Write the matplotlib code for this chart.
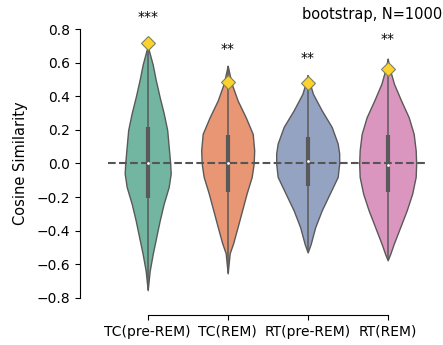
import colorsys
import matplotlib
matplotlib.use('Agg')
import matplotlib.pyplot as plt
import numpy as np
from matplotlib import colors as mcolors

# groups and annotations
groups = ['TC(pre-REM)', 'TC(REM)', 'RT(pre-REM)', 'RT(REM)']
stars = ['***', '**', '**', '**']
star_y = [0.875, 0.685, 0.63, 0.74]
observed = [0.72, 0.484, 0.48, 0.565]

# violin outlines: value grid and density (half width)
tcpre_v = [0.70, 0.59, 0.50, 0.395, 0.30, 0.20, 0.10, 0.0, -0.06, -0.14, -0.24, -0.34, -0.44, -0.54, -0.64, -0.755]
tcpre_d = [0, 5, 8, 12, 16, 19.5, 21, 22.5, 23, 21, 16, 12, 8.5, 5, 2, 0]
tcrem_v = [0.583, 0.55, 0.475, 0.375, 0.276, 0.177, 0.079, 0.0, -0.08, -0.177, -0.277, -0.377, -0.475, -0.535, -0.655]
tcrem_d = [0, 1.2, 4, 10, 18, 25, 26.5, 26, 24, 19, 14.5, 10, 5.5, 2, 0]
rtpre_v = [0.525, 0.47, 0.415, 0.317, 0.218, 0.119, 0.06, 0.0, -0.08, -0.18, -0.28, -0.38, -0.48, -0.53]
rtpre_d = [0, 2.5, 5.3, 14, 24, 30, 31.5, 31.5, 30, 22, 14, 7.5, 3, 0]
rtrem_v = [0.625, 0.565, 0.475, 0.377, 0.276, 0.177, 0.079, 0.0, -0.08, -0.18, -0.28, -0.38, -0.48, -0.54, -0.577]
rtrem_d = [0, 2, 6.3, 13.3, 21, 26, 28, 28.5, 28, 24.5, 19, 12.5, 6, 2.5, 0]

# box: q1, median, q3
q1 = [-0.207, -0.17, -0.135, -0.169]
med = [0.0, 0.0, 0.015, -0.01]
q3 = [0.216, 0.168, 0.159, 0.168]

palette = ['#66c2a5', '#fc8d62', '#8da0cb', '#e78ac3']


def desat(c, prop=0.75):
    h, l, s = colorsys.rgb_to_hls(*mcolors.to_rgb(c))
    return colorsys.hls_to_rgb(h, l, s * prop)


fig = plt.figure(figsize=(4.43, 3.45), dpi=100)
ax = fig.add_axes([0.2431, 0.1371, 0.7223, 0.7780])
gray = '#595959'

profiles = [(tcpre_v, tcpre_d), (tcrem_v, tcrem_d), (rtpre_v, rtpre_d), (rtrem_v, rtrem_d)]
for i, (v, d) in enumerate(profiles):
    v = np.array(v)
    d = np.array(d) / 80.0
    ax.fill_betweenx(v, i - d, i + d, facecolor=desat(palette[i]),
                     edgecolor=gray, linewidth=1.0, zorder=2)
    ax.plot([i, i], [v.min(), v.max()], color=gray, lw=1.1, zorder=3,
            solid_capstyle='butt')
    ax.plot([i, i], [q1[i], q3[i]], color=gray, lw=3.0, zorder=3,
            solid_capstyle='butt')
    ax.plot(i, med[i], 'o', color='white', ms=2, mew=0, zorder=4)

ax.hlines(0, -0.5, 3.5, colors='#555555', linestyles='--', lw=1.5, zorder=3)
ax.plot(range(len(groups)), observed, 'D', color='#fbd22e',
        markeredgecolor='#808060', ms=7.5, mew=0.8, linestyle='None', zorder=5)
for i, s in enumerate(stars):
    ax.text(i, star_y[i], s, ha='center', va='center', fontsize=10)

ax.set_xlim(-0.5, 3.5)
ax.set_ylim(-0.8, 0.8)
ax.set_xticks(range(len(groups)))
ax.set_xticklabels(groups, fontsize=10.5)
ax.set_yticks(np.arange(-0.8, 0.81, 0.2))
ax.set_yticklabels(['\u22120.8', '\u22120.6', '\u22120.4', '\u22120.2', '0.0',
                    '0.2', '0.4', '0.6', '0.8'], fontsize=10.5)
ax.set_ylabel('Cosine Similarity', fontsize=10.5)
ax.yaxis.set_label_coords(-0.249, 0.5)

ax.spines['right'].set_visible(False)
ax.spines['top'].set_visible(False)
ax.spines['left'].set_position(('outward', 20))
ax.spines['bottom'].set_position(('outward', 12.5))
ax.spines['left'].set_bounds(-0.8, 0.8)
ax.spines['bottom'].set_bounds(0, 3)

fig.text(0.998, 1 - 15 / 345, 'bootstrap, N=1000', ha='right', va='center',
         fontsize=10.5)

fig.savefig('out.png', dpi=100)
